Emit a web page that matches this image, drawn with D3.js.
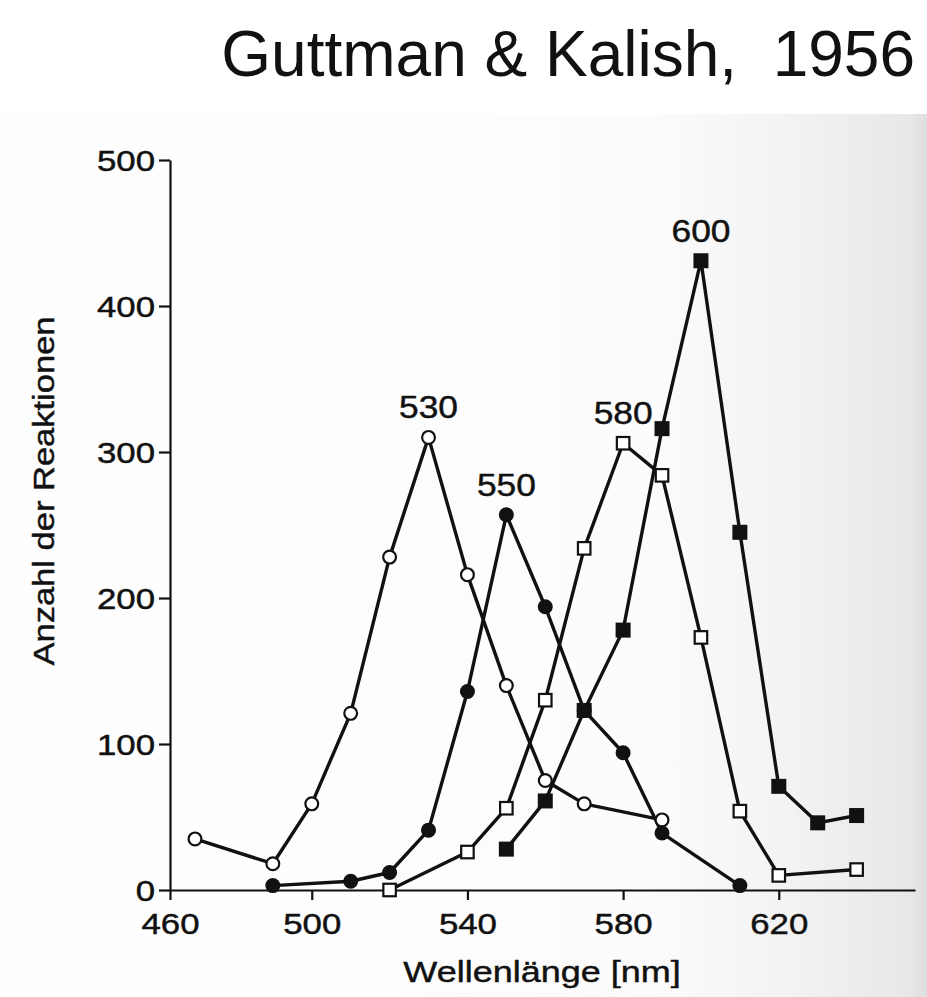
<!DOCTYPE html>
<html>
<head>
<meta charset="utf-8">
<script src="https://cdn.jsdelivr.net/npm/d3@7"></script>
<style>
  html, body { margin: 0; padding: 0; background: #fff; }
  svg { display: block; }
  text { font-family: "Liberation Sans", Arial, Helvetica, sans-serif; fill: #111; }
  .printed { stroke: #111; stroke-width: 0.45px; }
</style>
</head>
<body>
<svg id="chart" width="927" height="997"></svg>
<script>
// Generalisation gradients (Guttman & Kalish, 1956): responses per test wavelength
// for four groups trained on 530, 550, 580 and 600 nm.
const xTicks = [460, 500, 540, 580, 620];
const yTicks = [0, 100, 200, 300, 400, 500];

const wl530 = [470, 490, 500, 510, 520, 530, 540, 550, 560, 570, 590];
const val530 = [35, 18, 59, 121, 228, 310, 216, 140, 75, 59, 48];

const wl550 = [490, 510, 520, 530, 540, 550, 560, 570, 580, 590, 610];
const val550 = [3, 6, 12, 41, 136, 257, 194, 123, 94, 39, 3];

const wl580 = [520, 540, 550, 560, 570, 580, 590, 600, 610, 620, 640];
const val580 = [0, 26, 56, 130, 234, 306, 284, 173, 54, 10, 14];

const wl600 = [550, 560, 570, 580, 590, 600, 610, 620, 630, 640];
const val600 = [28, 61, 123, 178, 316, 431, 245, 71, 46, 51];

const peakLabels = [530, 550, 580, 600];

const series = [
  { peak: 530, wl: wl530, val: val530, shape: "circle", filled: false },
  { peak: 550, wl: wl550, val: val550, shape: "circle", filled: true },
  { peak: 580, wl: wl580, val: val580, shape: "square", filled: false },
  { peak: 600, wl: wl600, val: val600, shape: "square", filled: true }
];

const svg = d3.select("#chart");
const ink = "#111";

// paper tone of the printed figure, darkening towards the right edge
const defs = svg.append("defs");
const grad = defs.append("linearGradient").attr("id", "paper")
  .attr("x1", "0").attr("x2", "1").attr("y1", "0").attr("y2", "0");
grad.append("stop").attr("offset", "0").attr("stop-color", "#fefefe");
grad.append("stop").attr("offset", "0.7").attr("stop-color", "#fcfcfc");
grad.append("stop").attr("offset", "0.86").attr("stop-color", "#f2f2f2");
grad.append("stop").attr("offset", "0.98").attr("stop-color", "#e8e8e8");
grad.append("stop").attr("offset", "1").attr("stop-color", "#dedede");
svg.append("rect").attr("x", 0).attr("y", 114).attr("width", 927).attr("height", 883)
  .attr("fill", "url(#paper)");

// the axis starts just right of 460 nm; the first stretch up to 470 is compressed
const x = d3.scaleLinear().domain([460, 470, 655]).range([170, 195, 915]);
const y = d3.scaleLinear().domain([0, 500]).range([890, 160]);

const sx = 1.2; // the printed lettering is wider than Arial

// y axis
const yAxis = svg.append("g").attr("transform", `translate(${x(460)},0)`)
  .call(d3.axisLeft(y).tickValues(yTicks).tickSize(11).tickSizeOuter(0).tickPadding(4));
yAxis.select(".domain").attr("stroke", ink).attr("stroke-width", 2.2);
yAxis.selectAll(".tick line").attr("stroke", ink).attr("stroke-width", 2.2);
yAxis.selectAll(".tick text")
  .attr("class", "printed")
  .attr("font-size", 29).attr("fill", ink)
  .attr("x", -15 / sx).attr("dy", "0.36em")
  .attr("transform", `scale(${sx},1)`);

// x axis
const xAxis = svg.append("g").attr("transform", `translate(0,${y(0)})`)
  .call(d3.axisBottom(x).tickValues(xTicks).tickSize(10).tickSizeOuter(0).tickPadding(13));
xAxis.select(".domain").attr("stroke", ink).attr("stroke-width", 2.2);
xAxis.selectAll(".tick line").attr("stroke", ink).attr("stroke-width", 2.2);
xAxis.selectAll(".tick text")
  .attr("class", "printed")
  .attr("font-size", 29).attr("fill", ink)
  .attr("transform", `scale(${sx},1)`);

// axis titles
svg.append("text").attr("class", "printed")
  .attr("transform", `translate(542,982) scale(1.2,1)`)
  .attr("text-anchor", "middle").attr("font-size", 30)
  .text("Wellenlänge [nm]");
svg.append("text").attr("class", "printed")
  .attr("transform", `translate(54,491) rotate(-90) scale(1.17,1)`)
  .attr("text-anchor", "middle").attr("font-size", 29.5)
  .text("Anzahl der Reaktionen");

// title
svg.append("text")
  .attr("x", 915).attr("y", 76)
  .attr("text-anchor", "end").attr("font-size", 64)
  .style("white-space", "pre")
  .attr("fill", "#000")
  .text("Guttman & Kalish,  1956");

// curves
const line = d3.line().x(d => x(d[0])).y(d => y(d[1]));
const plot = svg.append("g");
series.forEach(s => {
  const pts = s.wl.map((w, i) => [w, s.val[i]]);
  plot.append("path").datum(pts)
    .attr("d", line).attr("fill", "none")
    .attr("stroke", ink).attr("stroke-width", 3.4).attr("stroke-linejoin", "round");
});

// markers on top of all curves
series.forEach(s => {
  const pts = s.wl.map((w, i) => [w, s.val[i]]);
  const g = plot.append("g");
  if (s.shape === "circle") {
    g.selectAll("circle").data(pts).join("circle")
      .attr("cx", d => x(d[0])).attr("cy", d => y(d[1]))
      .attr("r", s.filled ? 7.5 : 6.4)
      .attr("fill", s.filled ? ink : "#fff")
      .attr("stroke", ink).attr("stroke-width", s.filled ? 0 : 2.2);
  } else {
    const side = s.filled ? 15 : 12.5;
    g.selectAll("rect").data(pts).join("rect")
      .attr("x", d => x(d[0]) - side / 2).attr("y", d => y(d[1]) - side / 2)
      .attr("width", side).attr("height", side)
      .attr("fill", s.filled ? ink : "#fff")
      .attr("stroke", ink).attr("stroke-width", s.filled ? 0 : 2.2);
  }
});

// peak labels: the training wavelength above each maximum
series.forEach((s, i) => {
  const k = s.wl.indexOf(peakLabels[i]);
  svg.append("text").attr("class", "printed")
    .attr("transform", `translate(${x(s.wl[k])},${y(s.val[k]) - 19}) scale(1.14,1)`)
    .attr("text-anchor", "middle").attr("font-size", 31)
    .text(peakLabels[i]);
});
</script>
</body>
</html>
